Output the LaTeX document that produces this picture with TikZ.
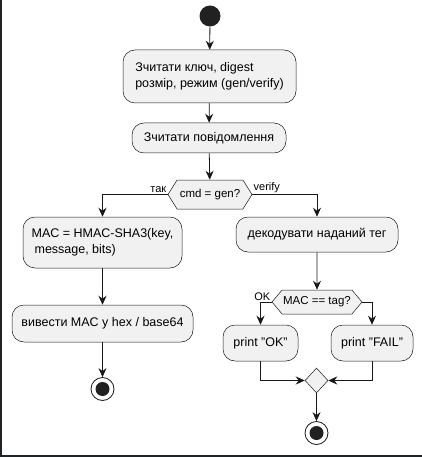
\documentclass[tikz,border=0pt]{standalone}
\usepackage{fontspec}
\setmainfont{Liberation Sans}
\usepackage{tikz}
\usetikzlibrary{shapes.geometric, shapes.symbols, arrows.meta}

\definecolor{actfill}{HTML}{F1F1F1}
\definecolor{linecol}{HTML}{181818}
\definecolor{framecol}{HTML}{1E2328}

\begin{document}
\begin{tikzpicture}[x=1pt, y=-1pt, >={Stealth[length=9pt, width=8pt, inset=3pt]},
  action/.style={rectangle, draw=linecol, line width=0.5pt, rounded corners=12pt, fill=actfill, font=\fontsize{12.5}{16}\selectfont, inner sep=0pt},
  choice/.style={signal, signal to=east and west, draw=linecol, line width=0.5pt, fill=actfill, font=\fontsize{11.5}{14}\selectfont, inner sep=0pt},
  merge/.style={diamond, draw=linecol, line width=0.5pt, fill=actfill, inner sep=0pt, minimum width=23pt, minimum height=25pt},
  startnode/.style={circle, fill=black!87, minimum size=21pt, inner sep=0pt},
  stopnode/.style={circle, draw=linecol, line width=0.8pt, fill=white, minimum size=23pt, inner sep=0pt,
    path picture={\fill[black!87] (path picture bounding box.center) circle (7pt);}},
  arrow/.style={->, draw=linecol, line width=0.8pt},
  lbl/.style={font=\fontsize{11}{13}\selectfont, inner sep=1pt}
]
\useasboundingbox (0,0) rectangle (422,457);

% Frame
\draw[framecol, line width=2pt] (1,0) -- (1,456) -- (422,456);

% Nodes
\node[startnode] (start) at (210,16) {};
\node[action, align=left, minimum width=173pt, minimum height=53pt] (readkey) at (209.5,76.5) {Зчитати ключ, digest\\розмір, режим (gen/verify)};
\node[action, minimum width=154pt, minimum height=30pt] (readmsg) at (209,138) {Зчитати повідомлення};
\node[choice, minimum width=84pt, minimum height=29pt, signal pointer angle=116] (mode) at (210,194.5) {cmd = gen?};
\node[action, align=left, minimum width=159pt, minimum height=51pt] (compute) at (102.5,242.5) {MAC = HMAC-SHA3(key,\\\hspace{3pt}message, bits)};
\node[action, minimum width=162pt, minimum height=35pt] (decode) at (317,234.5) {декодувати наданий тег};
\node[action, minimum width=181pt, minimum height=37pt] (output) at (102.5,323.5) {вивести MAC у hex / base64};
\node[stopnode] (stop1) at (102.5,389) {};
\node[choice, minimum width=90pt, minimum height=24pt, signal pointer angle=100] (check) at (317,302) {MAC == tag?};
\node[action, minimum width=75pt, minimum height=36pt] (printok) at (260.5,343) {print "OK"};
\node[action, minimum width=82pt, minimum height=36pt] (printfail) at (372,343) {print "FAIL"};
\node[merge] (join) at (316.5,380.5) {};
\node[stopnode] (stop2) at (316.5,433) {};

% Arrows
\draw[arrow] (start) -- (readkey);
\draw[arrow] (readkey) -- (readmsg);
\draw[arrow] (readmsg) -- (mode);
\draw[arrow] (mode.west) -| (compute.north) node[pos=0, above left, lbl] {так};
\draw[arrow] (mode.east) -| (decode.north) node[pos=0, above right, lbl] {verify};
\draw[arrow] (compute) -- (output);
\draw[arrow] (output) -- (stop1);
\draw[arrow] (decode) -- (check);
\draw[arrow] (check.west) -| (printok.north) node[pos=0, above left, lbl] {OK};
\draw[arrow] (check.east) -| (printfail.north);
\draw[arrow] (printok.south) |- (join.west);
\draw[arrow] (printfail.south) |- (join.east);
\draw[arrow] (join) -- (stop2);
\end{tikzpicture}
\end{document}
